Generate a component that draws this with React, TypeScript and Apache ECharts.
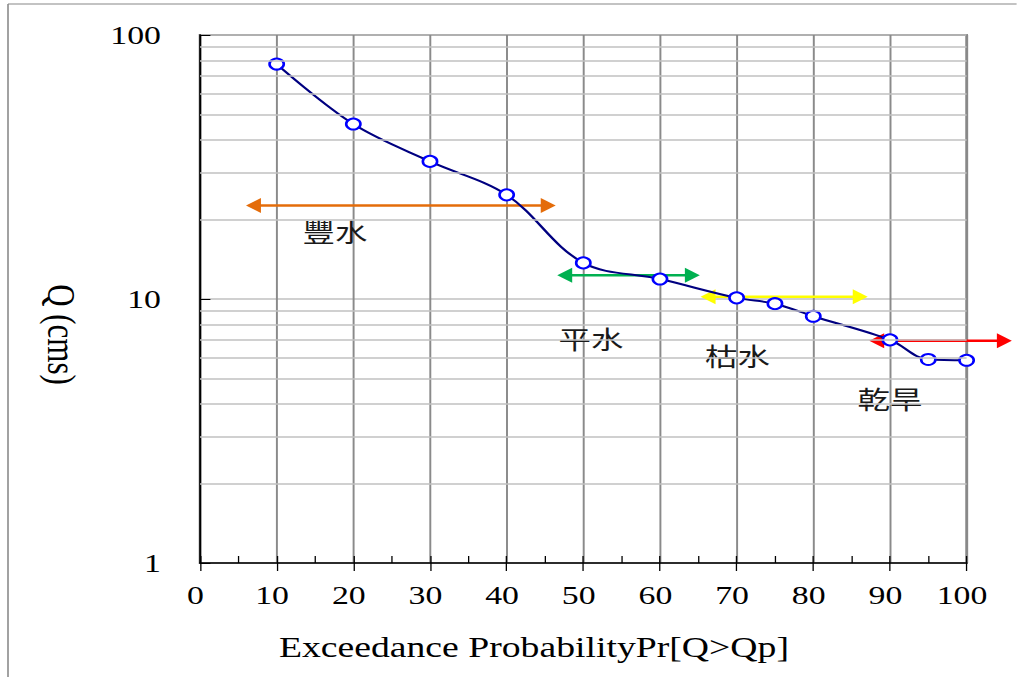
import React, { useEffect, useRef } from "react";
import * as echarts from "echarts";

// ---- data ----
const PROB = [10, 20, 30, 40, 50, 60, 70, 75, 80, 90, 95, 100];
const FLOW = [77.6, 46.0, 33.2, 24.8, 13.7, 11.9, 10.1, 9.6, 8.6, 7.0, 5.9, 5.86];

const X_TICKS = [0, 10, 20, 30, 40, 50, 60, 70, 80, 90, 100];
const Y_MINOR = [2, 3, 4, 5, 6, 7, 8, 9, 20, 30, 40, 50, 60, 70, 80, 90];

// arrows: [from x, to x, y]
const ARROW_FROM = [6.0, 46.6, 65.3, 87.3];
const ARROW_TO = [46.4, 65.2, 87.1, 105.9];
const ARROW_Y = [22.6, 12.3, 10.2, 6.95];
const ARROW_COLORS = ["#e46c0a", "#00b050", "#ffff00", "#ff0000"];

// regime labels (placed in data coordinates)
const LABEL_TEXT = ["豐水", "平水", "枯水", "乾旱"];
const LABEL_X = [17.6, 51.0, 70.1, 90.0];
const LABEL_Y = [18.1, 7.12, 6.14, 4.22];

const S = 1.3; // horizontal stretch of the reference picture
const W = 1017 / S;
const H = 677;

const SERIF = "'Liberation Serif', 'Times New Roman', serif";
const CJK = "'Noto Sans CJK TC', 'Noto Sans CJK SC', sans-serif";

export default function App() {
  const ref = useRef<HTMLDivElement>(null);

  useEffect(() => {
    if (!ref.current) return;
    const chart = echarts.init(ref.current, undefined, { renderer: "svg" });

    const gridRect = { left: 200 / S, right: (1017 - 967) / S, top: 35, bottom: H - 563 };

    const option: any = {
      animation: false,
      backgroundColor: "#fff",
      grid: [
        { ...gridRect, show: true, borderColor: "#808080", borderWidth: 2, backgroundColor: "transparent" },
        { ...gridRect, show: false },
      ],
      xAxis: [
        {
          type: "value",
          gridIndex: 0,
          min: 0,
          max: 100,
          interval: 10,
          axisLine: { show: true, onZero: false, lineStyle: { color: "#000", width: 1.5 } },
          axisTick: { show: true, length: 8, lineStyle: { color: "#000", width: 1 } },
          axisLabel: {
            fontFamily: SERIF,
            fontSize: 26,
            color: "#000",
            margin: 19,
            padding: [0, 7, 0, 0],
            formatter: (v: number) => (X_TICKS.includes(v) ? String(v) : ""),
          },
          splitLine: { show: true, lineStyle: { color: "#8a8a8a", width: 1.5 } },
          name: "Exceedance ProbabilityPr[Q>Qp]",
          nameLocation: "middle",
          nameGap: 70,
          nameTextStyle: { fontFamily: SERIF, fontSize: 29, color: "#000", padding: [0, 76, 0, 0] },
        },
        {
          type: "value",
          gridIndex: 1,
          min: 0,
          max: 100,
          interval: 5,
          axisLine: { show: false },
          axisTick: { show: true, inside: true, length: 7, lineStyle: { color: "#000", width: 1 } },
          axisLabel: { show: false },
          splitLine: { show: false },
        },
      ],
      yAxis: [
        {
          type: "log",
          logBase: 10,
          gridIndex: 0,
          min: 1,
          max: 100,
          axisLine: { show: true, lineStyle: { color: "#000", width: 1.5 } },
          axisTick: { show: true, inside: true, length: 8, lineStyle: { color: "#000", width: 1 } },
          axisLabel: { fontFamily: SERIF, fontSize: 26, color: "#000", margin: 30 },
          splitLine: { show: true, lineStyle: { color: "#c0c0c0", width: 1.5 } },
          minorTick: { show: false },
          name: "Q (cms)",
          nameLocation: "middle",
          nameRotate: -90,
          nameGap: 91,
          nameTextStyle: { fontFamily: SERIF, fontSize: 31, color: "#000", padding: [0, 0, 0, 71] },
        },
        { type: "value", gridIndex: 1, show: false, min: 0, max: 1 },
      ],
      graphic: [
        { type: "line", shape: { x1: 8 / S, y1: 4, x2: W, y2: 4 }, style: { stroke: "#888", lineWidth: 1.2 } },
        { type: "line", shape: { x1: 8 / S, y1: 4, x2: 8 / S, y2: H }, style: { stroke: "#888", lineWidth: 1.2 } },
      ],
      series: [
        {
          type: "line",
          name: "minor-grid",
          xAxisIndex: 0,
          yAxisIndex: 0,
          data: [],
          z: 1,
          silent: true,
          markLine: {
            silent: true,
            symbol: ["none", "none"],
            label: { show: false },
            animation: false,
            lineStyle: { color: "#c0c0c0", width: 1.5, type: "solid" },
            emphasis: { disabled: true },
            data: Y_MINOR.map((v) => ({ yAxis: v })),
          },
        },
        {
          type: "custom",
          name: "arrows",
          xAxisIndex: 0,
          yAxisIndex: 0,
          z: 2,
          silent: true,
          clip: false,
          encode: { x: [0, 1], y: 2 },
          data: ARROW_FROM.map((f, i) => [f, ARROW_TO[i], ARROW_Y[i]]),
          renderItem: (params: any, api: any) => {
            const p1 = api.coord([api.value(0), api.value(2)]);
            const p2 = api.coord([api.value(1), api.value(2)]);
            const c = ARROW_COLORS[params.dataIndex];
            const hl = 11.5;
            const hw = 7.5;
            return {
              type: "group",
              children: [
                {
                  type: "line",
                  shape: { x1: p1[0] + hl * 0.7, y1: p1[1], x2: p2[0] - hl * 0.7, y2: p2[1] },
                  style: { stroke: c, lineWidth: 2.5 },
                },
                {
                  type: "polygon",
                  shape: { points: [[p1[0], p1[1]], [p1[0] + hl, p1[1] - hw], [p1[0] + hl, p1[1] + hw]] },
                  style: { fill: c },
                },
                {
                  type: "polygon",
                  shape: { points: [[p2[0], p2[1]], [p2[0] - hl, p2[1] - hw], [p2[0] - hl, p2[1] + hw]] },
                  style: { fill: c },
                },
              ],
            };
          },
        },
        {
          type: "custom",
          name: "labels",
          xAxisIndex: 0,
          yAxisIndex: 0,
          z: 4,
          silent: true,
          clip: false,
          encode: { x: 0, y: 1 },
          data: LABEL_X.map((x, i) => [x, LABEL_Y[i]]),
          renderItem: (params: any, api: any) => {
            const p = api.coord([api.value(0), api.value(1)]);
            return {
              type: "text",
              x: p[0],
              y: p[1],
              style: {
                text: LABEL_TEXT[params.dataIndex],
                fontFamily: CJK,
                fontSize: 25,
                fill: "#1a1a1a",
                align: "center",
                verticalAlign: "middle",
              },
            };
          },
        },
        {
          type: "line",
          name: "Q",
          xAxisIndex: 0,
          yAxisIndex: 0,
          z: 3,
          smooth: 0.35,
          data: PROB.map((p, i) => [p, FLOW[i]]),
          symbol: "emptyCircle",
          symbolSize: 11,
          showAllSymbol: true,
          lineStyle: { color: "#000080", width: 2 },
          itemStyle: { color: "#0000ff", borderColor: "#0000ff", borderWidth: 1.6 },
        },
      ],
    };

    chart.setOption(option);
    return () => chart.dispose();
  }, []);

  return (
    <div
      ref={ref}
      style={{
        position: "fixed",
        left: 0,
        top: 0,
        width: W,
        height: H,
        transform: `scaleX(${S})`,
        transformOrigin: "0 0",
        background: "#fff",
      }}
    />
  );
}
